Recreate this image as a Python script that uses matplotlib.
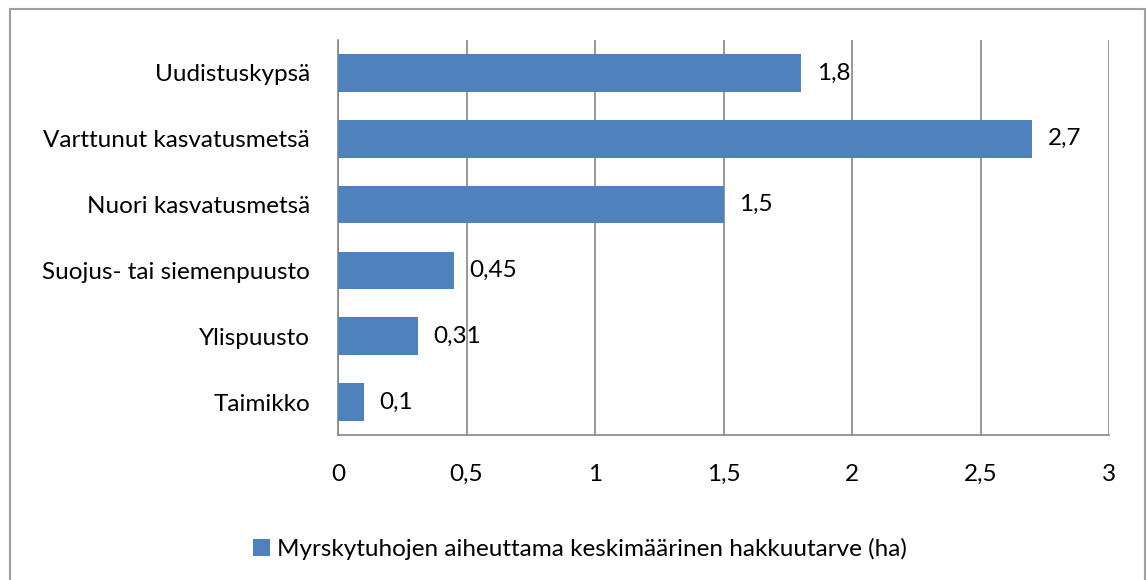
import matplotlib
matplotlib.use("Agg")
import matplotlib.pyplot as plt
from matplotlib.patches import Rectangle

# Data (bottom to top)
categories = ["Taimikko", "Ylispuusto", "Suojus- tai siemenpuusto",
              "Nuori kasvatusmetsä", "Varttunut kasvatusmetsä", "Uudistuskypsä"]
values = [0.1, 0.31, 0.45, 1.5, 2.7, 1.8]
value_labels = ["0,1", "0,31", "0,45", "1,5", "2,7", "1,8"]
x_ticks = [0, 0.5, 1, 1.5, 2, 2.5, 3]
x_tick_labels = ["0", "0,5", "1", "1,5", "2", "2,5", "3"]
series_name = "Myrskytuhojen aiheuttama keskimäärinen hakkuutarve (ha)"

bar_color = "#4F81BD"
grid_color = "#868686"
fs = 17.5

plt.rcParams['font.family'] = ['Lato', 'DejaVu Sans']

W, H = 1147, 580
fig = plt.figure(figsize=(W / 100, H / 100), dpi=100)

# plot area in pixels: x 338..1109, y 40..435
ax = fig.add_axes([338 / W, 1 - 435 / H, (1109 - 338) / W, (435 - 40) / H])

y = list(range(len(categories)))
ax.barh(y, values, height=0.57, color=bar_color, zorder=3, label=series_name)

for yi, v, lab in zip(y, values, value_labels):
    ax.annotate(lab, (v, yi), xytext=(11.5, 0), textcoords="offset points",
                ha="left", va="center", fontsize=fs, color="black")

ax.set_xlim(0, 3)
ax.set_ylim(-0.5, len(categories) - 0.5)
ax.set_xticks(x_ticks)
ax.set_xticklabels(x_tick_labels, fontsize=fs)
ax.set_yticks(y)
ax.set_yticklabels(categories, fontsize=fs)
ax.tick_params(axis="both", length=0)
ax.tick_params(axis="x", pad=21)
ax.tick_params(axis="y", pad=20)

ax.xaxis.grid(True, color=grid_color, linewidth=1.2, zorder=0)
for side in ["top", "right"]:
    ax.spines[side].set_visible(False)
for side in ["left", "bottom"]:
    ax.spines[side].set_color(grid_color)
    ax.spines[side].set_linewidth(1.2)

leg = fig.legend(loc="center", bbox_to_anchor=(580 / W, 1 - 549 / H),
                 frameon=False, fontsize=fs, handlelength=0.7, handleheight=0.7,
                 handletextpad=0.3)

# outer chart border (bottom edge falls just outside the image)
fig.add_artist(Rectangle((10 / W, -2 / H), (1145 - 10) / W, (573) / H,
                         transform=fig.transFigure, fill=False,
                         edgecolor="#A0A0A0", linewidth=1.5))

fig.savefig("out.png", dpi=100)
